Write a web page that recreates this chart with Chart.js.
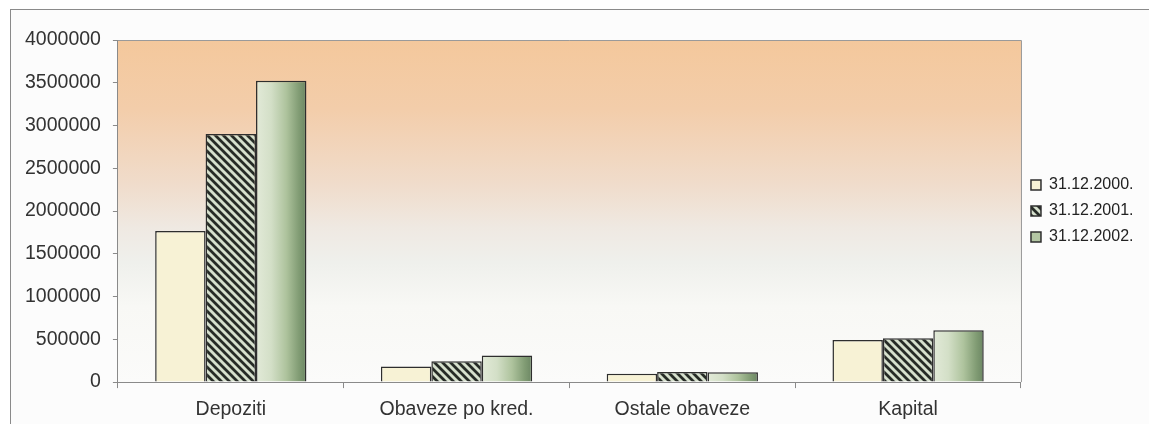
<!DOCTYPE html>
<html>
<head>
<meta charset="utf-8">
<script src="https://cdn.jsdelivr.net/npm/chart.js@4/dist/chart.umd.min.js"></script>
<style>
  html, body { margin: 0; padding: 0; background: #fff; overflow: hidden; }
  #wrap { position: relative; width: 1149px; height: 424px; }
</style>
</head>
<body>
<div id="wrap"><canvas id="bilansChart" width="1149" height="424"></canvas></div>
<script>
// podaci
const categories = ['Depoziti', 'Obaveze po kred.', 'Ostale obaveze', 'Kapital']
const seriesLabels = ['31.12.2000.', '31.12.2001.', '31.12.2002.']
const values2000 = [1766000, 181000, 98000, 492000]
const values2001 = [2902000, 244000, 117000, 512000]
const values2002 = [3523000, 310000, 115000, 605000]
const yTicks = [0, 500000, 1000000, 1500000, 2000000, 2500000, 3000000, 3500000, 4000000]

const barGroup = 0.67
const axisFont = { family: 'Liberation Sans, Arial, sans-serif', size: 19.5 }

// hatch pattern for 2001
function makeHatch(ctx) {
    const c = document.createElement('canvas')
    c.width = 8
    c.height = 8
    const p = c.getContext('2d')
    p.fillStyle = '#d6e0cd'
    p.fillRect(0, 0, 8, 8)
    p.strokeStyle = '#262b26'
    p.lineWidth = 2.8
    p.beginPath()
    p.moveTo(-2, -2); p.lineTo(10, 10)
    p.moveTo(-10, -2); p.lineTo(2, 10)
    p.moveTo(6, -2); p.lineTo(18, 10)
    p.stroke()
    return ctx.createPattern(c, 'repeat')
}

// horizontal gradient per bar for 2002
function greenGradient(context) {
    const chart = context.chart
    const x = chart.scales.x
    if (!x || context.dataIndex === undefined) return '#b3c6a3'
    const catW = x.width / categories.length
    const barW = catW * barGroup / 3
    const center = x.getPixelForValue(context.dataIndex) + barW
    const left = center - barW / 2
    const right = center + barW / 2
    if (!isFinite(left) || !isFinite(right) || barW <= 0) return '#b3c6a3'
    const g = chart.ctx.createLinearGradient(left, 0, right, 0)
    g.addColorStop(0, '#e2ead8')
    g.addColorStop(0.3, '#d3dfc7')
    g.addColorStop(0.6, '#aec39d')
    g.addColorStop(0.85, '#819c74')
    g.addColorStop(1, '#6b8663')
    return g
}

const plotBackground = {
    id: 'plotBackground',
    beforeDraw(chart) {
        const ctx = chart.ctx
        const a = chart.chartArea
        ctx.save()
        ctx.fillStyle = '#fcfcfc'
        ctx.fillRect(10, 9, chart.width, chart.height)
        ctx.strokeStyle = '#8a8a8a'
        ctx.lineWidth = 1
        ctx.strokeRect(10.5, 9.5, chart.width + 20, chart.height + 20)
        const g = ctx.createLinearGradient(0, a.top, 0, a.bottom)
        g.addColorStop(0, '#f4c89c')
        g.addColorStop(0.2, '#f3cdaa')
        g.addColorStop(0.42, '#f0dccb')
        g.addColorStop(0.55, '#efe9e2')
        g.addColorStop(0.65, '#eff0ec')
        g.addColorStop(0.78, '#f8f8f5')
        g.addColorStop(1, '#fbfbfa')
        ctx.fillStyle = g
        ctx.fillRect(a.left, a.top, a.right - a.left, a.bottom - a.top)
        ctx.strokeStyle = '#9a9a9a'
        ctx.beginPath()
        ctx.moveTo(a.left, a.top + 0.5)
        ctx.lineTo(a.right + 0.5, a.top + 0.5)
        ctx.lineTo(a.right + 0.5, a.bottom)
        ctx.stroke()
        ctx.restore()
    }
}

const ctx = document.getElementById('bilansChart').getContext('2d')
const hatch = makeHatch(ctx)

new Chart(ctx, {
    type: 'bar',
    data: {
        labels: categories,
        datasets: [{
            label: seriesLabels[0],
            data: values2000,
            backgroundColor: '#f7f2d5',
            borderColor: '#2e2e2e',
            borderWidth: 1.5
        }, {
            label: seriesLabels[1],
            data: values2001,
            backgroundColor: hatch,
            borderColor: '#2e2e2e',
            borderWidth: 1.5
        }, {
            label: seriesLabels[2],
            data: values2002,
            backgroundColor: greenGradient,
            borderColor: '#2e2e2e',
            borderWidth: 1.5
        }]
    },
    options: {
        responsive: false,
        animation: false,
        devicePixelRatio: 1,
        layout: {
            padding: { left: 13, top: 40, right: 5.5, bottom: -7.5 }
        },
        datasets: {
            bar: {
                categoryPercentage: barGroup,
                barPercentage: 1
            }
        },
        plugins: {
            legend: {
                position: 'right',
                fullSize: false,
                labels: {
                    boxWidth: 10,
                    boxHeight: 10,
                    padding: 10,
                    color: '#222',
                    font: { family: 'Liberation Sans, Arial, sans-serif', size: 16 },
                    generateLabels(chart) {
                        const items = Chart.defaults.plugins.legend.labels.generateLabels(chart)
                        if (items[2]) items[2].fillStyle = '#b3c6a3'
                        return items
                    }
                }
            },
            tooltip: { enabled: false }
        },
        scales: {
            x: {
                grid: {
                    drawOnChartArea: false,
                    drawTicks: true,
                    tickLength: 6,
                    color: '#8a8a8a'
                },
                border: { color: '#8a8a8a' },
                ticks: {
                    color: '#333',
                    padding: 10,
                    font: axisFont
                }
            },
            y: {
                min: 0,
                max: 4000000,
                afterBuildTicks(axis) {
                    axis.ticks = yTicks.map(v => ({ value: v }))
                },
                grid: {
                    drawOnChartArea: false,
                    drawTicks: true,
                    tickLength: 5,
                    color: '#8a8a8a'
                },
                border: { color: '#8a8a8a' },
                ticks: {
                    color: '#333',
                    padding: 12,
                    callback: v => String(v),
                    font: axisFont
                }
            }
        }
    },
    plugins: [plotBackground]
})
</script>
</body>
</html>
